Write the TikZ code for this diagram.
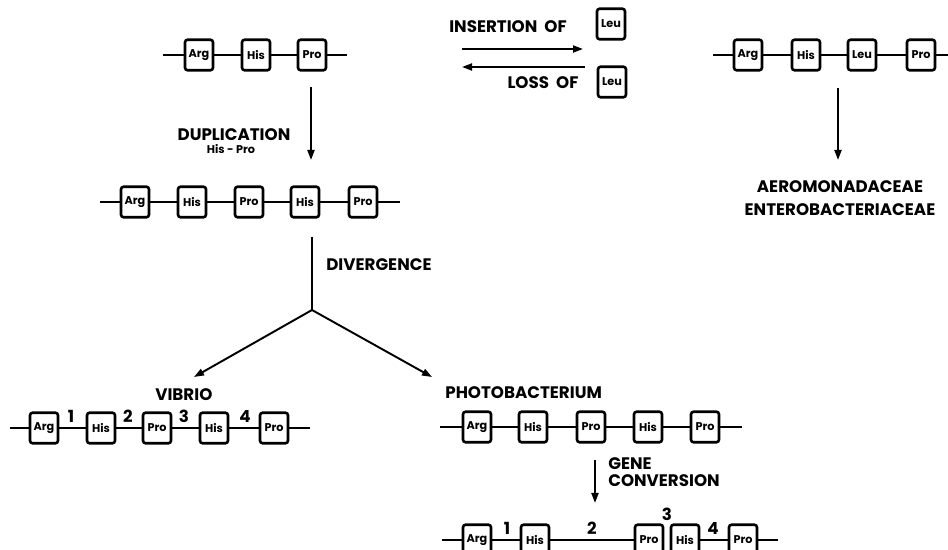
\documentclass[tikz,border=0pt]{standalone}
\usepackage{fontspec}
\setmainfont{Poppins}
\usepackage{tikz}
\usetikzlibrary{arrows.meta}
\newcommand{\genefont}{\fontsize{6.4}{7}\selectfont\bfseries}
\newcommand{\labfont}{\fontsize{9.5}{10}\selectfont\bfseries}
\newcommand{\subfont}{\fontsize{6.4}{7}\selectfont\bfseries}

\begin{document}
\begin{tikzpicture}[x=0.02cm, y=-0.02cm,
    gene/.style={draw=black, line width=1.5pt, rounded corners=1.5pt, minimum width=0.56cm, minimum height=0.61cm, inner sep=0pt, font=\genefont},
    dna/.style={line width=1.1pt},
    evo/.style={line width=1.1pt, -{Triangle[length=0.2cm, width=0.14cm]}},
    lab/.style={font=\labfont, inner sep=0pt},
    num/.style={font=\labfont, inner sep=0pt}
]
\useasboundingbox (0,0) rectangle (948,550);

% ancestral operon and the Leu insertion
\coordinate (s1) at (163,55); \coordinate (e1) at (347,55);
\node[gene] (a1) at (199,55) {Arg};
\node[gene] (h1) at (256,55) {His};
\node[gene] (p1) at (312,55) {Pro};
\draw[dna] (s1) -- (a1) -- (h1) -- (p1) -- (e1);

\coordinate (sr) at (713,55); \coordinate (er) at (948,55);
\node[gene] (ar) at (748,55) {Arg};
\node[gene] (hr) at (806,55) {His};
\node[gene] (lr) at (862,55) {Leu};
\node[gene] (pr) at (921,55) {Pro};
\draw[dna] (sr) -- (ar) -- (hr) -- (lr) -- (pr) -- (er);

\node[lab] (ins) at (508,27) {INSERTION\ \ OF};
\node[gene] (leu1) at (611,24) {Leu};
\node[lab] (loss) at (543,83) {LOSS\ \ OF};
\node[gene] (leu2) at (612,82) {Leu};
\coordinate (il) at (462,49); \coordinate (ir) at (583,49);
\coordinate (ll) at (462,67); \coordinate (lr2) at (585,67);
\draw[evo] (il) -- (ir);
\draw[evo] (lr2) -- (ll);

\coordinate (fam) at (838,88); \coordinate (fam2) at (838,160);
\node[lab, align=center] (ent) at (840,198) {AEROMONADACEAE\\[3pt]ENTEROBACTERIACEAE};
\draw[evo] (fam) -- (fam2);

% duplication
\coordinate (d0) at (311,87); \coordinate (d1) at (311,160);
\draw[evo] (d0) -- (d1);
\node[lab] (dup) at (234,135) {DUPLICATION};
\node[font=\subfont, inner sep=0pt] (hp) at (231,149) {His - Pro};

\coordinate (s2) at (100,202); \coordinate (e2) at (400,202);
\node[gene] (a2) at (135,202) {Arg};
\node[gene] (h2) at (192,202) {His};
\node[gene] (p2) at (249,202) {Pro};
\node[gene] (h2b) at (305,202) {His};
\node[gene] (p2b) at (363,202) {Pro};
\draw[dna] (s2) -- (a2) -- (h2) -- (p2) -- (h2b) -- (p2b) -- (e2);

% divergence
\coordinate (v0) at (312,237); \coordinate (vj) at (312,310);
\coordinate (vl) at (194,377); \coordinate (vr) at (432,377);
\draw[line width=1.1pt] (v0) -- (vj);
\draw[evo] (vj) -- (vl);
\draw[evo] (vj) -- (vr);
\node[lab, anchor=west] (div) at (326,265) {DIVERGENCE};

% Vibrio
\node[lab, anchor=west] (vib) at (155,395) {VIBRIO};
\coordinate (s3) at (10,428); \coordinate (e3) at (310,428);
\node[gene] (a3) at (44,428) {Arg};
\node[gene] (h3) at (101,428) {His};
\node[gene] (p3) at (157,428) {Pro};
\node[gene] (h3b) at (214,428) {His};
\node[gene] (p3b) at (274,428) {Pro};
\draw[dna] (s3) -- (a3) -- (h3) -- (p3) -- (h3b) -- (p3b) -- (e3);
\node[num] (n31) at (71,416) {1};
\node[num] (n32) at (128,416) {2};
\node[num] (n33) at (184,416) {3};
\node[num] (n34) at (245,416) {4};

% Photobacterium
\node[lab, anchor=west] (pho) at (445,393) {PHOTOBACTERIUM};
\coordinate (s4) at (440,427); \coordinate (e4) at (742,427);
\node[gene] (a4) at (477,427) {Arg};
\node[gene] (h4) at (533,427) {His};
\node[gene] (p4) at (591,427) {Pro};
\node[gene] (h4b) at (648,427) {His};
\node[gene] (p4b) at (705,427) {Pro};
\draw[dna] (s4) -- (a4) -- (h4) -- (p4) -- (h4b) -- (p4b) -- (e4);

\coordinate (g0) at (595,460); \coordinate (g1) at (595,503);
\draw[evo] (g0) -- (g1);
\node[lab, anchor=west, align=left] (gc) at (608,472) {GENE\\CONVERSION};

\coordinate (s5) at (442,540); \coordinate (e5) at (778,540);
\node[gene] (a5) at (477,540) {Arg};
\node[gene] (h5) at (535,540) {His};
\node[gene] (p5) at (649,540) {Pro};
\node[gene] (h5b) at (685,540) {His};
\node[gene] (p5b) at (743,540) {Pro};
\draw[dna] (s5) -- (a5) -- (h5) -- (p5);
\draw[dna] (h5b) -- (p5b) -- (e5);
\node[num] (n51) at (507,528) {1};
\node[num] (n52) at (592,528) {2};
\node[num] (n53) at (667,514) {3};
\node[num] (n54) at (713,528) {4};
\end{tikzpicture}
\end{document}
